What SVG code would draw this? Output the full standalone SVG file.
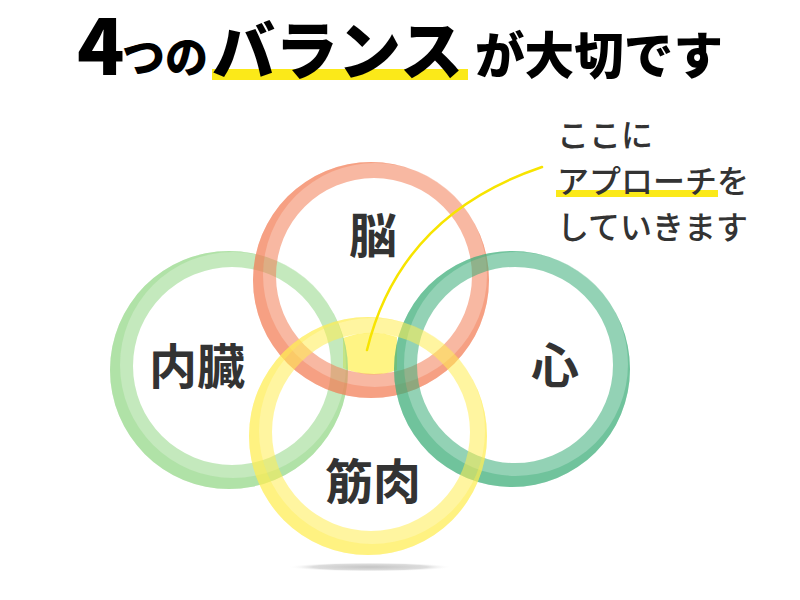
<svg xmlns="http://www.w3.org/2000/svg" width="800" height="600" viewBox="0 0 800 600">
  <defs>
    <style>
      .jp { font-family: "Noto Sans CJK JP", "Noto Sans", sans-serif; }
      .title { fill: #000000; font-weight: 900; }
      .label { fill: #333333; font-weight: 700; font-size: 48px; text-anchor: middle; }
      .note { fill: #333333; font-weight: 500; font-size: 32px; }
      .ring { fill-rule: evenodd; opacity: 0.55; }
      .cres { fill-rule: evenodd; opacity: 0.4; }
      .red { fill: #f27e56; }
      .lgreen { fill: #94d787; }
      .dgreen { fill: #3bad78; }
      .yellow { fill: #ffed52; }
      .mark { fill: #fbe919; }
      .callout { fill: none; stroke: #f7e400; stroke-width: 2.5; stroke-linecap: round; }
    </style>
    <radialGradient id="shadowGrad" cx="0.5" cy="0.5" r="0.5">
      <stop offset="0" stop-color="#c4c4c4"/>
      <stop offset="0.7" stop-color="#dddddd"/>
      <stop offset="1" stop-color="#ffffff" stop-opacity="0"/>
    </radialGradient>
  </defs>

  <rect width="800" height="600" fill="#ffffff"/>

  <!-- Title -->
  <g id="title" class="jp title">
    <rect class="mark" x="212" y="69" width="256" height="11"/>
    <text x="77" y="75" font-size="78">4</text>
    <text x="122" y="73" font-size="43" textLength="86" lengthAdjust="spacingAndGlyphs">つの</text>
    <text x="212" y="74" font-size="64" textLength="251" lengthAdjust="spacingAndGlyphs">バランス</text>
    <text x="475" y="74" font-size="50" textLength="248" lengthAdjust="spacingAndGlyphs">が大切です</text>
  </g>

  <!-- shadow -->
  <ellipse cx="370" cy="567" rx="82" ry="4.5" fill="url(#shadowGrad)"/>

  <!-- central highlighted area -->
  <path id="focus-area" d="M343,338 Q370,328 397,337 L397,370 Q372,380 343,368 Z" fill="#fff484"/>

  <!-- 内臓 -->
  <g id="node-naizou">
    <path class="ring lgreen" d="M110,370 a119,119 0 1,0 238,0 a119,119 0 1,0 -238,0 Z M133,366 a99,99 0 1,0 198,0 a99,99 0 1,0 -198,0 Z"/>
    <path class="cres lgreen" d="M110,370 a119,119 0 1,0 238,0 a119,119 0 1,0 -238,0 Z M120,365 a113,113 0 1,0 226,0 a113,113 0 1,0 -226,0 Z"/>
    <text class="jp label" x="197" y="384">内臓</text>
  </g>

  <!-- 脳 -->
  <g id="node-nou">
    <path class="ring red" d="M253,280 a118,118 0 1,0 236,0 a118,118 0 1,0 -236,0 Z M276,276 a98,98 0 1,0 196,0 a98,98 0 1,0 -196,0 Z"/>
    <path class="cres red" d="M253,280 a118,118 0 1,0 236,0 a118,118 0 1,0 -236,0 Z M263,275 a112,112 0 1,0 224,0 a112,112 0 1,0 -224,0 Z"/>
    <text class="jp label" x="373" y="253">脳</text>
  </g>

  <!-- 心 -->
  <g id="node-kokoro">
    <path class="ring dgreen" d="M394,369 a118,118 0 1,0 236,0 a118,118 0 1,0 -236,0 Z M417,365 a98,98 0 1,0 196,0 a98,98 0 1,0 -196,0 Z"/>
    <path class="cres dgreen" d="M394,369 a118,118 0 1,0 236,0 a118,118 0 1,0 -236,0 Z M404,364 a112,112 0 1,0 224,0 a112,112 0 1,0 -224,0 Z"/>
    <text class="jp label" x="555" y="383">心</text>
  </g>

  <!-- 筋肉 -->
  <g id="node-kinniku">
    <path class="ring yellow" d="M249,436 a119,119 0 1,0 238,0 a119,119 0 1,0 -238,0 Z M272,432 a99,99 0 1,0 198,0 a99,99 0 1,0 -198,0 Z"/>
    <path class="cres yellow" d="M249,436 a119,119 0 1,0 238,0 a119,119 0 1,0 -238,0 Z M259,431 a113,113 0 1,0 226,0 a113,113 0 1,0 -226,0 Z"/>
    <text class="jp label" x="373" y="499">筋肉</text>
  </g>

  <!-- connectors -->
  <g id="connectors">
    <path class="callout" d="M367,350 Q400,215 542,167"/>
  </g>

  <!-- callout note -->
  <g id="note" class="jp note">
    <rect class="mark" x="556" y="190" width="162" height="7"/>
    <text x="557" y="147">ここに</text>
    <text x="557" y="193">アプローチを</text>
    <text x="557" y="239">していきます</text>
  </g>
</svg>
